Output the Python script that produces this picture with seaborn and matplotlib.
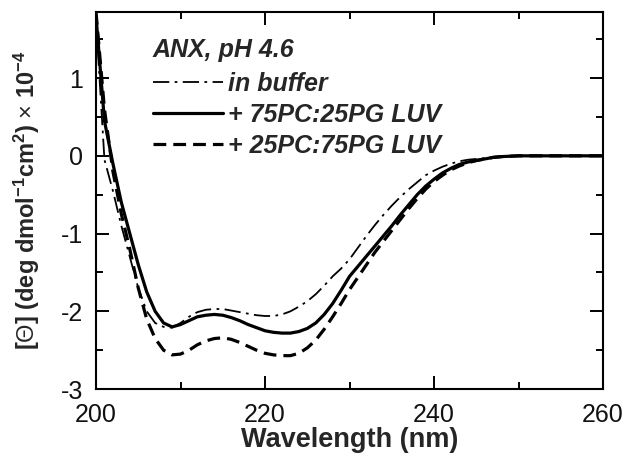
import numpy as np
import pandas as pd
import matplotlib
matplotlib.use("Agg")
import matplotlib.pyplot as plt
import seaborn as sns

wavelength = [200, 201, 202, 203, 204, 205, 206, 207, 208, 209, 210,
              211, 212, 213, 214, 215, 216, 217, 218, 219, 220,
              221, 222, 223, 224, 225, 226, 227, 228, 229, 230,
              231, 232, 233, 234, 235, 236, 237, 238, 239, 240,
              241, 242, 243, 244, 245, 246, 247, 248, 250, 252,
              254, 256, 258, 260]

in_buffer = [1.75, -0.05, -0.45, -0.9, -1.3, -1.7, -2.0, -2.15, -2.2, -2.21, -2.15,
             -2.07, -2.01, -1.98, -1.97, -1.97, -1.99, -2.01, -2.03, -2.05, -2.06,
             -2.06, -2.04, -2.0, -1.94, -1.87, -1.78, -1.67, -1.55, -1.45, -1.33,
             -1.18, -1.03, -0.89, -0.76, -0.64, -0.53, -0.43, -0.34, -0.25, -0.19,
             -0.14, -0.1, -0.07, -0.05, -0.04, -0.03, -0.02, -0.01, 0.0, 0.0,
             0.0, 0.0, 0.0, 0.0]

pc75_pg25 = [1.8, 0.45, -0.1, -0.6, -1.0, -1.4, -1.75, -2.0, -2.15, -2.2, -2.17,
             -2.12, -2.07, -2.05, -2.04, -2.05, -2.08, -2.12, -2.17, -2.21, -2.25,
             -2.27, -2.28, -2.28, -2.26, -2.22, -2.15, -2.04, -1.9, -1.73, -1.55,
             -1.42, -1.29, -1.16, -1.03, -0.9, -0.76, -0.63, -0.5, -0.39, -0.3,
             -0.22, -0.16, -0.11, -0.08, -0.06, -0.04, -0.02, -0.01, 0.0, 0.0,
             0.0, 0.0, 0.0, 0.0]

pc25_pg75 = [1.85, 0.6, -0.2, -0.75, -1.2, -1.7, -2.1, -2.35, -2.5, -2.56, -2.55,
             -2.5, -2.43, -2.38, -2.35, -2.34, -2.36, -2.4, -2.45, -2.5, -2.54,
             -2.56, -2.57, -2.57, -2.54, -2.47, -2.37, -2.23, -2.07, -1.9, -1.72,
             -1.56, -1.4, -1.24, -1.1, -0.96, -0.82, -0.68, -0.55, -0.43, -0.33,
             -0.25, -0.18, -0.13, -0.09, -0.06, -0.04, -0.02, -0.01, 0.0, 0.0,
             0.0, 0.0, 0.0, 0.0]

labels = ["in buffer", "+ 75PC:25PG LUV", "+ 25PC:75PG LUV"]
x_ticks = [200, 220, 240, 260]
y_ticks = [-3, -2, -1, 0, 1]

sns.set_theme(style="ticks")
plt.rcParams['font.family'] = ['Liberation Sans', 'DejaVu Sans']
plt.rcParams['mathtext.fontset'] = 'custom'
plt.rcParams['mathtext.rm'] = 'Liberation Sans'
plt.rcParams['mathtext.bf'] = 'Liberation Sans:bold'
plt.rcParams['mathtext.it'] = 'Liberation Sans:italic'

fig = plt.figure(figsize=(6.25, 4.61), dpi=100)
ax = fig.add_axes([0.1536, 0.156, 0.8114, 0.818])

styles = [
    dict(lw=1.3, dashes=(9, 3, 1.5, 3)),
    dict(lw=2.3, dashes=None),
    dict(lw=2.3, dashes=(4, 2.2)),
]
series = [in_buffer, pc75_pg25, pc25_pg75]
for lab, vals, st in zip(labels, series, styles):
    df = pd.DataFrame({"wl": wavelength, "v": vals})
    sns.lineplot(data=df, x="wl", y="v", ax=ax, color="black", lw=st["lw"], label=lab)
    line = ax.get_lines()[-1]
    if st["dashes"] is not None:
        line.set_dashes(st["dashes"])

ax.set_xlim(200, 260)
ax.set_ylim(-3, 1.85)
ax.set_xticks(x_ticks)
ax.set_yticks(y_ticks)
ax.set_xticks([210, 230, 250], minor=True)
ax.set_yticks([-2.5, -1.5, -0.5, 0.5, 1.5], minor=True)
ax.set_xticklabels([str(t) for t in x_ticks])
ax.set_yticklabels([str(t) for t in y_ticks])
ax.tick_params(which="both", direction="in", top=True, right=True, width=1.4,
               labelsize=18, color="black", labelcolor="#111111")
ax.tick_params(which="major", length=9.5)
ax.tick_params(which="minor", length=5)
ax.tick_params(axis="x", pad=10)
ax.tick_params(axis="y", pad=9)
for s in ax.spines.values():
    s.set_linewidth(1.5)
    s.set_color("black")

ax.set_xlabel("Wavelength (nm)", fontsize=19.5, fontweight="bold", labelpad=0)
ax.set_ylabel(r"[$\Theta$] (deg dmol$^{\mathbf{-1}}$cm$^{\mathbf{2}}$) $\times$ 10$^{\mathbf{-4}}$",
              fontsize=17, fontweight="bold", labelpad=14)

leg = ax.legend(loc="upper left", bbox_to_anchor=(0.112, 0.93), frameon=False,
                title="ANX, pH 4.6", handlelength=2.8, handletextpad=0.2,
                labelspacing=0.28, borderaxespad=0, borderpad=0,
                prop={"size": 18, "weight": "bold", "style": "italic"})
leg.get_title().set_fontsize(18)
leg.get_title().set_fontweight("bold")
leg.get_title().set_fontstyle("italic")
leg._legend_box.align = "left"
leg._legend_box.sep = 7

fig.savefig("out.png", dpi=100)
